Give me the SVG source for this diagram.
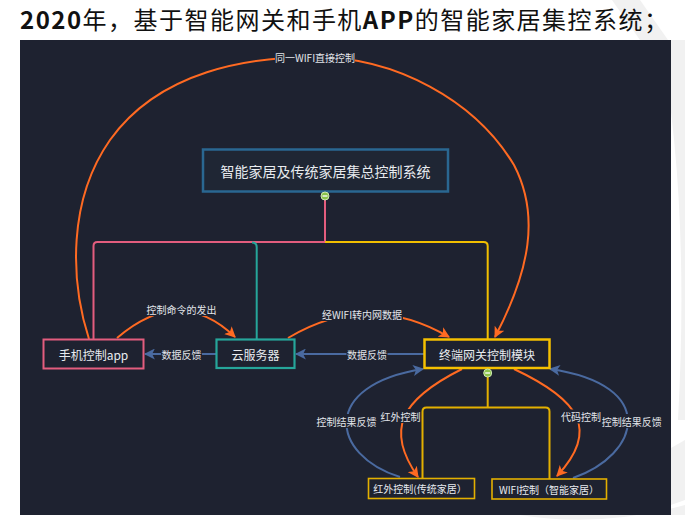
<svg xmlns="http://www.w3.org/2000/svg" width="685" height="525" viewBox="0 0 685 525">
<defs>
<style>
.lbl{font-family:"Noto Sans CJK SC","Noto Sans",sans-serif;font-size:10px;fill:#e2e5ea;text-anchor:middle;dominant-baseline:central}
.ntxt{font-family:"Noto Sans CJK SC","Noto Sans",sans-serif;fill:#e8ebef;text-anchor:middle;dominant-baseline:central}
.lbg{fill:#1e2230}
.or{fill:none;stroke:#ff6a22;stroke-width:2}
.bl{fill:none;stroke:#4a6aa0;stroke-width:2}
.tree{fill:none;stroke-width:2}
.wm{fill:#f1f1f1}
</style>
<marker id="ao" viewBox="0 0 10 10" refX="9" refY="5" markerWidth="11" markerHeight="11" markerUnits="userSpaceOnUse" orient="auto">
<path d="M0,0 L10,5 L0,10 L2.5,5 Z" fill="#ff6a22"/>
</marker>
<marker id="ab" viewBox="0 0 10 10" refX="9" refY="5" markerWidth="11" markerHeight="11" markerUnits="userSpaceOnUse" orient="auto">
<path d="M0,0 L10,5 L0,10 L2.5,5 Z" fill="#4a6aa0"/>
</marker>
</defs>
<rect width="685" height="525" fill="#ffffff"/>
<g id="watermark">
<polygon class="wm" points="612,0 640,0 668,40 640,40"/>
<path class="wm" d="M660,40 Q690,200 678,420 L685,420 L685,40 Z"/>
<polygon class="wm" points="671,448 685,440 685,500 671,505"/>
<path class="wm" d="M520,515 Q600,528 685,505 L685,515 Z"/>
</g>
<text x="20" y="29" font-family="&quot;Noto Sans CJK SC&quot;,sans-serif" font-size="24" fill="#111111" textLength="648" lengthAdjust="spacing"><tspan font-weight="bold">2020</tspan>年，基于智能网关和手机<tspan font-weight="bold">APP</tspan>的智能家居集控系统；</text>
<rect x="20" y="40" width="651" height="475" fill="#1e2230"/>
<g id="connectors">
<path class="tree" stroke="#e35d7e" d="M325,196 L325,242 L97.5,242 Q93.5,242 93.5,246 L93.5,339"/>
<path class="tree" stroke="#26a69a" d="M252,242.5 Q256.7,242.5 256.7,247 L256.7,339"/>
<path class="tree" stroke="#f2bf00" d="M325,242 L483.5,242 Q487.7,242 487.7,246 L487.7,339"/>
<path class="tree" stroke="#e3b000" d="M487.7,373 L487.7,407.5 M422.5,478 L422.5,411.5 Q422.5,407.5 426.5,407.5 L545.5,407.5 Q549.5,407.5 549.5,411.5 L549.5,479"/>
<path class="or" marker-end="url(#ao)" d="M89,339 C70,280 68,200 110,140 C160,70 250,57 315,57 C395,57 475,100 514,165 C540,215 530,270 495,337"/>
<rect class="lbg" x="275" y="50" width="80" height="14"/>
<text class="lbl" x="315" y="57">同一WIFI直接控制</text>
<path class="or" marker-end="url(#ao)" d="M117,338 Q180,284 235,337"/>
<rect class="lbg" x="147" y="302" width="69" height="14"/>
<text class="lbl" x="181.5" y="309">控制命令的发出</text>
<path class="or" marker-end="url(#ao)" d="M288,338 Q368,290 449,337"/>
<rect class="lbg" x="322" y="307" width="81" height="14"/>
<text class="lbl" x="362" y="314">经WIFI转内网数据</text>
<path class="bl" marker-end="url(#ab)" d="M216,354 L145,354"/>
<rect class="lbg" x="161" y="347" width="41" height="14"/>
<text class="lbl" x="181.5" y="354">数据反馈</text>
<path class="bl" marker-end="url(#ab)" d="M424,354 L296,354"/>
<rect class="lbg" x="346.5" y="347" width="41" height="14"/>
<text class="lbl" x="367" y="354">数据反馈</text>
<path class="bl" marker-end="url(#ab)" d="M400,477 C330,455 320,385 423,369"/>
<rect class="lbg" x="316" y="414" width="61" height="14"/>
<text class="lbl" x="346.5" y="421">控制结果反馈</text>
<path class="bl" marker-end="url(#ab)" d="M573,478 C640,455 660,385 550,369"/>
<rect class="lbg" x="602" y="414" width="59" height="14"/>
<text class="lbl" x="631.7" y="421">控制结果反馈</text>
<path class="or" marker-end="url(#ao)" d="M462,369 C400,400 385,430 418,477"/>
<rect class="lbg" x="380" y="409" width="41" height="14"/>
<text class="lbl" x="400.5" y="416">红外控制</text>
<path class="or" marker-end="url(#ao)" d="M514,369 C580,400 600,430 557,476"/>
<rect class="lbg" x="560.5" y="409.5" width="41" height="14"/>
<text class="lbl" x="581" y="416.5">代码控制</text>
</g>
<g id="node-top">
<rect x="203" y="149.5" width="245" height="42" fill="#1f2634" stroke="#2a6791" stroke-width="2.5"/>
<text class="ntxt" x="325.5" y="171" font-size="14">智能家居及传统家居集总控制系统</text>
<circle cx="325" cy="196" r="4" fill="#8bc34a" stroke="#cde8b0" stroke-width="1"/>
<line x1="322.5" y1="196" x2="327.5" y2="196" stroke="#ffffff" stroke-width="1.3"/>
</g>
<g id="node-app">
<rect x="43.5" y="339.5" width="100" height="29" fill="#1e2230" stroke="#e35d7e" stroke-width="2"/>
<text class="ntxt" x="93.5" y="354" font-size="12">手机控制app</text>
</g>
<g id="node-cloud">
<rect x="216.5" y="339.5" width="78" height="28.5" fill="#1e2230" stroke="#26a69a" stroke-width="2.2"/>
<text class="ntxt" x="255.5" y="354" font-size="12">云服务器</text>
</g>
<g id="node-gateway">
<rect x="424.5" y="339.5" width="125" height="28.5" fill="#1e2230" stroke="#f5c000" stroke-width="2.5"/>
<text class="ntxt" x="487" y="354" font-size="12">终端网关控制模块</text>
<circle cx="487.7" cy="373" r="4" fill="#8bc34a" stroke="#cde8b0" stroke-width="1"/>
<line x1="485.2" y1="373" x2="490.2" y2="373" stroke="#ffffff" stroke-width="1.3"/>
</g>
<g id="node-ir">
<rect x="368.5" y="478.5" width="106" height="20" fill="#1e2230" stroke="#e3b000" stroke-width="1.6"/>
<text class="ntxt" x="420" y="488.5" font-size="10">红外控制(传统家居）</text>
</g>
<g id="node-wifi">
<rect x="492" y="479" width="114.5" height="20" fill="#1e2230" stroke="#e3b000" stroke-width="1.6"/>
<text class="ntxt" x="549" y="489" font-size="10">WIFI控制（智能家居）</text>
</g>
</svg>
